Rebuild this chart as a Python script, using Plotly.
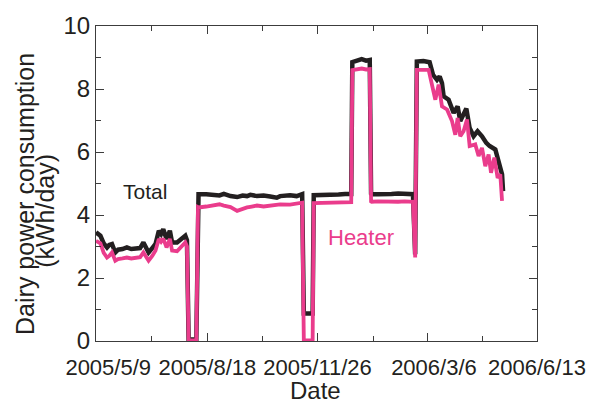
import pandas as pd
import plotly.graph_objects as go

START_DATE = "2005-05-09"

# Days since 2005/5/9 and daily consumption (kWh/day)
total_days = [0, 2, 4, 7, 10, 12, 14.5, 17.5, 20, 24, 28, 32, 36.5, 40, 43, 47.7, 51, 54, 57, 59, 61, 64, 67, 69,
              73.5, 77, 81, 82.5, 84, 91, 92.5,
              93, 100, 106, 112, 116, 122, 128, 133, 137, 140, 146, 152, 158, 164, 167, 176, 182, 187,
              188.5, 196.5, 197.5,
              199, 205, 212, 220, 226, 231.5, 232.5, 237, 241, 245, 248.3, 249.5,
              250, 256, 262, 268, 274, 280, 287.5, 289.5, 291,
              297, 302.6, 305.7, 309.3, 311.7, 313.8, 315.3, 319.8, 324.4, 328, 330.4, 333.4, 335.9, 338.9,
              342.5, 346.1, 350.1, 354, 357, 362.2, 365.2, 368.3, 369.2]
total_kwh = [3.45, 3.4, 3.34, 3.1, 2.97, 3.05, 3.08, 2.81, 2.9, 2.92, 2.97, 2.92, 2.93, 2.95, 3.13, 2.81, 2.95, 3.08,
             3.5, 3.4, 3.55, 3.24, 3.5, 3.13, 3.13, 3.22, 3.34, 3.2, 0.05, 0.05, 4.66,
             4.66, 4.66, 4.63, 4.62, 4.67, 4.6, 4.57, 4.62, 4.6, 4.64, 4.6, 4.62, 4.59, 4.55, 4.6, 4.63, 4.6, 4.66,
             0.87, 0.87, 4.63,
             4.63, 4.65, 4.66, 4.65, 4.67, 4.67, 8.85, 8.9, 8.95, 8.9, 8.92, 4.68,
             4.66, 4.66, 4.68, 4.67, 4.68, 4.67, 4.66, 2.75, 8.87,
             8.89, 8.85, 8.45, 8.29, 8.4, 8.19, 7.77, 7.66, 7.24, 7.45, 6.98, 7.19, 7.38, 6.76,
             6.5, 6.66, 6.5, 6.29, 6.19, 6.08, 5.71, 5.29, 4.76]

heater_days = [0, 2, 4, 7, 10, 12, 14.5, 17.5, 20, 24, 28, 32, 36.5, 40, 43, 47.7, 51, 54, 57, 59, 61, 64, 67, 69,
               73.5, 77, 81, 82.5, 84, 91, 92.5,
               93, 100, 106, 112, 116, 122, 128, 133, 137, 140, 146, 152, 158, 164, 167, 176, 182, 187,
               188.5, 196.5, 197.5,
               199, 205, 212, 220, 226, 231.5, 232.5, 237, 241, 245, 248.3, 249.5,
               250, 256, 262, 268, 274, 280, 287.5, 289.5, 291,
               301.7, 305.7, 307.8, 310.8, 313.8, 318.4, 322.9, 325.9, 328, 330.4, 333.4, 336.5, 338.9,
               344, 347, 350.1, 353.1, 356.1, 358.3, 361.3, 364.3, 366.7, 368.3]
heater_kwh = [3.18, 3.15, 3.1, 2.8, 2.65, 2.7, 2.81, 2.55, 2.6, 2.62, 2.65, 2.62, 2.64, 2.66, 2.81, 2.55, 2.7, 2.87,
              3.24, 3.15, 3.25, 2.97, 3.24, 2.87, 2.85, 2.97, 3.13, 3.0, 0.02, 0.02, 4.25,
              4.24, 4.27, 4.3, 4.34, 4.3, 4.25, 4.13, 4.2, 4.24, 4.26, 4.3, 4.27, 4.3, 4.32, 4.34, 4.33, 4.36, 4.39,
              0.02, 0.02, 4.38,
              4.38, 4.38, 4.4, 4.4, 4.4, 4.41, 8.6, 8.62, 8.65, 8.62, 8.63, 4.43,
              4.42, 4.43, 4.42, 4.43, 4.42, 4.43, 4.42, 2.65, 8.61,
              8.61, 8.03, 7.66, 8.14, 7.45, 7.35, 6.98, 6.55, 7.08, 6.5, 6.66, 7.03, 6.19,
              6.24, 5.87, 6.13, 5.55, 5.92, 5.34, 5.82, 5.18, 5.29, 4.45]

major_tick_dates = ["2005-05-09", "2005-08-18", "2005-11-26", "2006-03-06", "2006-06-13"]
major_tick_text = ["\u00a0\u00a0\u00a0\u00a02005/5/9", "2005/8/18", "2005/11/26", "\u00a0\u00a02006/3/6", "2006/6/13"]
minor_tick_dates = ["2005-06-28", "2005-10-07", "2006-01-16", "2006-04-25"]

start = pd.Timestamp(START_DATE)
total_x = start + pd.to_timedelta(total_days, unit="D")
heater_x = start + pd.to_timedelta(heater_days, unit="D")

BLACK = "#231f20"
PINK = "#ea3c8c"
FONT = "Liberation Sans, Arial, sans-serif"

fig = go.Figure()
fig.add_trace(go.Scatter(x=total_x, y=total_kwh, mode="lines", name="Total",
                         line=dict(color=BLACK, width=4.5)))
fig.add_trace(go.Scatter(x=heater_x, y=heater_kwh, mode="lines", name="Heater",
                         line=dict(color=PINK, width=3.8)))

axis_common = dict(showline=True, linecolor="#3c3c3c", linewidth=1.2, mirror="ticks",
                   ticks="inside", ticklen=8, tickwidth=1.2, tickcolor="#3c3c3c",
                   showgrid=False, zeroline=False)

fig.update_xaxes(type="date", range=[major_tick_dates[0], major_tick_dates[-1]],
                 tickmode="array", tickvals=major_tick_dates, ticktext=major_tick_text,
                 tickfont=dict(family=FONT, size=22, color=BLACK), ticklabelstandoff=6,
                 minor=dict(tickmode="array", tickvals=minor_tick_dates, ticks="inside",
                            ticklen=4.5, tickwidth=1.2, tickcolor="#3c3c3c"),
                 **axis_common)
fig.update_yaxes(range=[0, 10], tickmode="linear", tick0=0, dtick=2,
                 tickfont=dict(family=FONT, size=24, color=BLACK),
                 minor=dict(dtick=1, ticks="inside", ticklen=4.5, tickwidth=1.2, tickcolor="#3c3c3c"),
                 **axis_common)

annos = [
    dict(text="Total", x=start + pd.Timedelta(days=44.7), y=4.76, xref="x", yref="y",
         showarrow=False, font=dict(family=FONT, size=21, color=BLACK)),
    dict(text="Heater", x=start + pd.Timedelta(days=240.6), y=3.29, xref="x", yref="y",
         showarrow=False, font=dict(family=FONT, size=22, color=PINK)),
    dict(text="Date", x=(315.5 - 96) / 441, y=-(391 - 341) / 317, xref="paper", yref="paper",
         xanchor="center", yanchor="middle",
         showarrow=False, font=dict(family=FONT, size=24, color=BLACK)),
    dict(text="Dairy power consumption", x=-(96 - 25) / 441, y=(341 - 193) / 317, xref="paper", yref="paper",
         xanchor="center", yanchor="middle",
         textangle=-90, showarrow=False, font=dict(family=FONT, size=25, color=BLACK)),
    dict(text="(kWh/day)", x=-(96 - 45) / 441, y=(341 - 210) / 317, xref="paper", yref="paper",
         xanchor="center", yanchor="middle",
         textangle=-90, showarrow=False, font=dict(family=FONT, size=25, color=BLACK)),
]
fig.update_layout(width=602, height=406, margin=dict(l=96, r=65, t=24, b=65),
                  paper_bgcolor="white", plot_bgcolor="white", showlegend=False,
                  annotations=annos)

fig.write_html("out.html")
